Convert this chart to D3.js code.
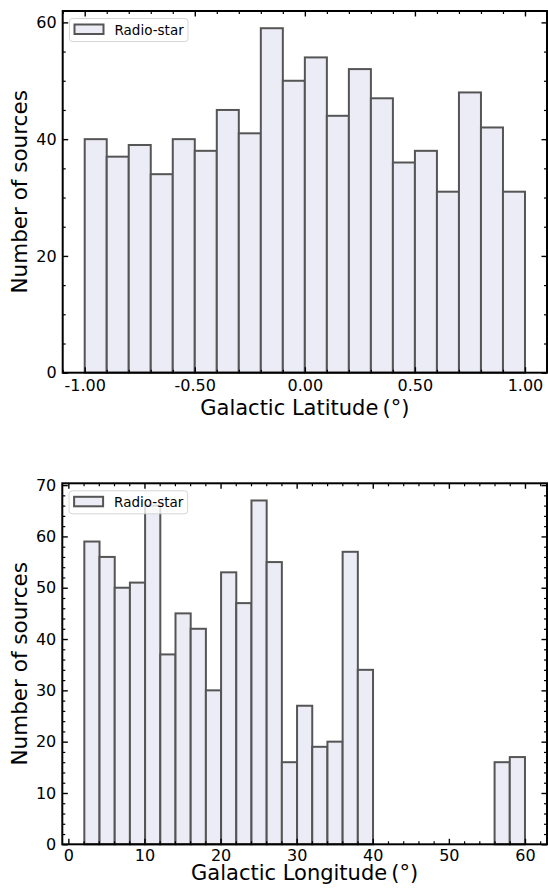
<!DOCTYPE html>
<html>
<head>
<meta charset="utf-8">
<script src="https://cdn.jsdelivr.net/npm/d3@7/dist/d3.min.js"></script>
<style>
  html, body { margin: 0; padding: 0; background: #ffffff; }
  svg { display: block; font-family: "DejaVu Sans", sans-serif; }
</style>
</head>
<body>
<svg id="chart" width="548" height="890"></svg>
<script>
// ---------------- data ----------------
const seriesName = "Radio-star";

// Galactic latitude histogram: 20 bins from -1.0 to 1.0
const latBinStart = -1.0;
const latBinEnd = 1.0;
const latCounts = [40, 37, 39, 34, 40, 38, 45, 41, 59, 50, 54, 44, 52, 47, 36, 38, 31, 48, 42, 31];
const latMajorTicks = [-1.0, -0.5, 0.0, 0.5, 1.0];
const latYMajorTicks = [0, 20, 40, 60];

// Galactic longitude histogram: 29 bins from ~2.1 to 60
const lonBinStart = 2.1;
const lonBinEnd = 60.0;
const lonCounts = [59, 56, 50, 51, 66, 37, 45, 42, 30, 53, 47, 67, 55, 16, 27, 19, 20, 57, 34,
                   0, 0, 0, 0, 0, 0, 0, 0, 16, 17];
const lonMajorTicks = [0, 10, 20, 30, 40, 50, 60];
const lonYMajorTicks = [0, 10, 20, 30, 40, 50, 60, 70];

const yLabel = "Number of sources";
const latXLabel = "Galactic Latitude\u2009(\u00B0)";
const lonXLabel = "Galactic Longitude\u2009(\u00B0)";

// ---------------- styles ----------------
const barFill = "#ececf6";
const barStroke = "#555555";
const svg = d3.select("#chart");

function edgesFrom(start, end, n) {
  return d3.range(n + 1).map(i => start + (end - start) * i / n);
}

function hyphen(fmt) {
  return v => fmt(v).replace("\u2212", "-");
}

function drawPanel(opt) {
  const { left, right, top, bottom, counts, binStart, binEnd,
          xMajor, xMinorStep, xFormat, yMajor, yMinorStep, xLabel, xLabelY, xPad } = opt;
  const edges = edgesFrom(binStart, binEnd, counts.length);
  const bins = counts.map((c, i) => ({ x0: edges[i], x1: edges[i + 1], c }));
  const span = binEnd - binStart;
  const x = d3.scaleLinear().domain([binStart - 0.05 * span, binEnd + 0.05 * span]).range([left, right]);
  const yMax = d3.max(counts) * 1.05;
  const y = d3.scaleLinear().domain([0, yMax]).range([bottom, top]);

  const g = svg.append("g");

  // bars
  g.append("g").selectAll("rect")
    .data(bins.filter(b => b.c > 0))
    .join("rect")
    .attr("x", d => x(d.x0))
    .attr("y", d => y(d.c))
    .attr("width", d => x(d.x1) - x(d.x0))
    .attr("height", d => y(0) - y(d.c))
    .attr("fill", barFill)
    .attr("stroke", barStroke)
    .attr("stroke-width", 2);

  // minor tick values
  const xd = x.domain(), yd = y.domain();
  const xMinor = d3.range(Math.ceil(xd[0] / xMinorStep) * xMinorStep, xd[1] + 1e-9, xMinorStep)
    .map(v => +v.toFixed(6))
    .filter(v => !xMajor.some(m => Math.abs(m - v) < 1e-6));
  const yMinor = d3.range(0, yd[1] + 1e-9, yMinorStep)
    .filter(v => !yMajor.some(m => Math.abs(m - v) < 1e-6));

  function styleAxis(sel, w) {
    sel.select(".domain").remove();
    sel.selectAll(".tick line").attr("stroke", "#000").attr("stroke-width", w);
    sel.selectAll(".tick text").attr("fill", "#000").style("font-size", "16px")
      .style("font-family", "'DejaVu Sans', sans-serif");
  }

  // bottom axis
  g.append("g").attr("transform", `translate(0,${bottom})`)
    .call(d3.axisBottom(x).tickValues(xMajor).tickFormat(hyphen(xFormat)).tickSize(-5.5).tickPadding(xPad))
    .call(s => styleAxis(s, 1.4));
  g.append("g").attr("transform", `translate(0,${bottom})`)
    .call(d3.axisBottom(x).tickValues(xMinor).tickFormat("").tickSize(-3))
    .call(s => styleAxis(s, 1.2));
  // top axis
  g.append("g").attr("transform", `translate(0,${top})`)
    .call(d3.axisTop(x).tickValues(xMajor).tickFormat("").tickSize(-5.5))
    .call(s => styleAxis(s, 1.4));
  g.append("g").attr("transform", `translate(0,${top})`)
    .call(d3.axisTop(x).tickValues(xMinor).tickFormat("").tickSize(-3))
    .call(s => styleAxis(s, 1.2));
  // left axis
  g.append("g").attr("transform", `translate(${left},0)`)
    .call(d3.axisLeft(y).tickValues(yMajor).tickFormat(d3.format("d")).tickSize(-5.5).tickPadding(6))
    .call(s => styleAxis(s, 1.4));
  g.append("g").attr("transform", `translate(${left},0)`)
    .call(d3.axisLeft(y).tickValues(yMinor).tickFormat("").tickSize(-3))
    .call(s => styleAxis(s, 1.2));
  // right axis
  g.append("g").attr("transform", `translate(${right},0)`)
    .call(d3.axisRight(y).tickValues(yMajor).tickFormat("").tickSize(-5.5))
    .call(s => styleAxis(s, 1.4));
  g.append("g").attr("transform", `translate(${right},0)`)
    .call(d3.axisRight(y).tickValues(yMinor).tickFormat("").tickSize(-3))
    .call(s => styleAxis(s, 1.2));

  // spines
  g.append("rect")
    .attr("x", left).attr("y", top)
    .attr("width", right - left).attr("height", bottom - top)
    .attr("fill", "none").attr("stroke", "#000").attr("stroke-width", 2);

  // axis labels
  g.append("text")
    .attr("x", (left + right) / 2).attr("y", xLabelY)
    .attr("text-anchor", "middle")
    .style("font-size", "21px")
    .text(xLabel);
  g.append("text")
    .attr("transform", `translate(27,${(top + bottom) / 2}) rotate(-90)`)
    .attr("text-anchor", "middle")
    .style("font-size", "21.5px")
    .text(yLabel);

  // legend
  const lg = g.append("g").attr("transform", `translate(${left + 6.8},${top + 7.5})`);
  lg.append("rect")
    .attr("x", 0).attr("y", 0).attr("width", 118.5).attr("height", 23)
    .attr("rx", 3).attr("ry", 3)
    .attr("fill", "#ffffff").attr("fill-opacity", 0.8)
    .attr("stroke", "#cccccc").attr("stroke-opacity", 0.8).attr("stroke-width", 1);
  lg.append("rect")
    .attr("x", 5).attr("y", 6).attr("width", 29).attr("height", 9.5)
    .attr("fill", barFill).attr("stroke", barStroke).attr("stroke-width", 2);
  lg.append("text")
    .attr("x", 45).attr("y", 16)
    .style("font-size", "13.5px")
    .text(seriesName);
}

drawPanel({
  left: 62.7, right: 547, top: 11, bottom: 372.7,
  counts: latCounts, binStart: latBinStart, binEnd: latBinEnd,
  xMajor: latMajorTicks, xMinorStep: 0.1, xFormat: d3.format(".2f"),
  yMajor: latYMajorTicks, yMinorStep: 5,
  xLabel: latXLabel, xLabelY: 415, xPad: 7
});

drawPanel({
  left: 62.3, right: 547, top: 483.3, bottom: 844.3,
  counts: lonCounts, binStart: lonBinStart, binEnd: lonBinEnd,
  xMajor: lonMajorTicks, xMinorStep: 2, xFormat: d3.format("d"),
  yMajor: lonYMajorTicks, yMinorStep: 2,
  xLabel: lonXLabel, xLabelY: 879.5, xPad: 5.5
});
</script>
</body>
</html>
